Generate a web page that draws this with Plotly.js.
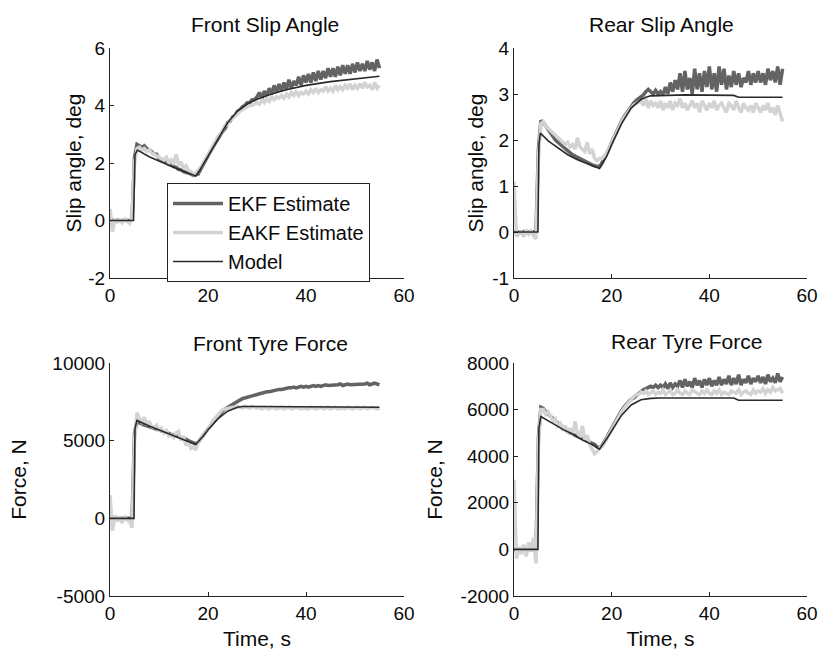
<!DOCTYPE html>
<html>
<head>
<meta charset="utf-8">
<script src="https://cdn.plot.ly/plotly-3.0.1.min.js"></script>
<style>html,body{margin:0;padding:0;background:#fff;}#chart{width:820px;height:650px;}</style>
</head>
<body>
<div id="chart"></div>
<script>
// Shared time base for estimates (s)
const t = [
  0,0.5,1,1.5,2,2.5,3,3.5,4,4.5,
  5,5.5,6,6.5,7,7.5,8,8.5,9,9.5,
  10,10.5,11,11.5,12,12.5,13,13.5,14,14.5,
  15,15.5,16,16.5,17,17.5,18,18.5,19,19.5,
  20,20.5,21,21.5,22,22.5,23,23.5,24,24.5,
  25,25.5,26,26.5,27,27.5,28,28.5,29,29.5,
  30,30.5,31,31.5,32,32.5,33,33.5,34,34.5,
  35,35.5,36,36.5,37,37.5,38,38.5,39,39.5,
  40,40.5,41,41.5,42,42.5,43,43.5,44,44.5,
  45,45.5,46,46.5,47,47.5,48,48.5,49,49.5,
  50,50.5,51,51.5,52,52.5,53,53.5,54,54.5,
  55
];

// ---- Front Slip Angle (deg) ----
const frontSlipModelT = [0,4.8,5.1,5.6,8,10,12,14,16,17.5,18.5,20,22,24,26,28,30,33,36,40,45,50,55];
const frontSlipModel  = [0,0,2.3,2.45,2.22,2.06,1.92,1.78,1.65,1.55,1.8,2.25,2.85,3.4,3.8,4.05,4.22,4.4,4.55,4.7,4.83,4.93,5.02];
const frontSlipEKF = [
  0,0.02,-0.02,0.01,0,-0.01,0.02,0,-0.01,0.05,
  2.2,2.65,2.6,2.55,2.6,2.5,2.45,2.4,2.3,2.3,
  2.15,2.12,2.05,2.02,1.95,1.93,1.87,1.85,1.78,1.76,
  1.7,1.68,1.63,1.62,1.57,1.58,1.62,1.78,1.95,2.1,
  2.25,2.4,2.55,2.7,2.85,2.95,3.1,3.2,3.4,3.45,
  3.6,3.65,3.8,3.85,3.95,4.0,4.1,4.1,4.2,4.2,
  4.3,4.45,4.25,4.5,4.35,4.6,4.4,4.7,4.45,4.75,
  4.5,4.8,4.55,4.9,4.6,4.85,4.7,5.0,4.7,5.05,
  4.8,5.1,4.8,5.15,4.85,5.2,4.9,5.2,4.95,5.3,
  5.0,5.3,5.0,5.35,5.05,5.4,5.1,5.4,5.1,5.45,
  5.15,5.5,5.2,5.45,5.2,5.55,5.25,5.5,5.2,5.6,
  5.3
];
const frontSlipEAKF = [
  0.4,-0.4,0.05,-0.05,0.02,-0.08,0.05,-0.03,-0.1,0.1,
  2.0,2.5,2.55,2.45,2.5,2.4,2.45,2.35,2.3,2.25,
  2.2,2.15,2.1,2.2,2.0,2.1,1.95,2.3,1.9,2.05,
  1.8,1.9,1.75,1.7,1.6,1.65,1.75,1.85,2.0,2.15,
  2.3,2.5,2.6,2.8,2.9,3.0,3.15,3.3,3.35,3.5,
  3.55,3.65,3.7,3.8,3.85,3.9,3.95,4.0,4.0,4.05,
  4.1,4.05,4.2,4.1,4.25,4.15,4.3,4.2,4.3,4.25,
  4.35,4.25,4.4,4.3,4.45,4.35,4.5,4.35,4.45,4.4,
  4.5,4.4,4.55,4.45,4.6,4.45,4.55,4.5,4.65,4.5,
  4.6,4.5,4.7,4.55,4.65,4.55,4.7,4.6,4.75,4.55,
  4.7,4.6,4.75,4.6,4.8,4.65,4.7,4.55,4.8,4.6,
  4.7
];

// ---- Rear Slip Angle (deg) ----
const rearSlipModelT = [0,4.9,5.1,5.4,7,9,11,13,15,17.5,19,20,22,24,26,27,28,30,35,45,46,55];
const rearSlipModel  = [0,0,1.9,2.15,1.98,1.82,1.68,1.57,1.48,1.38,1.65,1.9,2.35,2.7,2.88,2.93,2.96,2.97,2.98,2.97,2.93,2.93];
const rearSlipEKF = [
  0,0.01,-0.01,0,0.01,-0.01,0,0.01,0,0.02,
  1.8,2.42,2.38,2.3,2.25,2.15,2.08,2.0,1.95,1.9,
  1.85,1.8,1.77,1.72,1.68,1.65,1.62,1.6,1.56,1.55,
  1.5,1.48,1.46,1.44,1.42,1.42,1.5,1.6,1.7,1.82,
  1.95,2.07,2.18,2.3,2.4,2.5,2.58,2.66,2.74,2.8,
  2.86,2.9,2.94,2.98,3.05,3.1,3.05,3.0,3.08,3.0,
  3.05,2.98,3.15,3.0,3.25,3.05,3.3,3.1,3.45,3.05,
  3.5,3.1,3.35,3.0,3.55,3.1,3.45,3.05,3.5,3.15,
  3.6,3.1,3.45,3.05,3.6,3.2,3.55,3.1,3.4,3.15,
  3.5,3.2,3.45,3.15,3.35,3.25,3.5,3.2,3.45,3.25,
  3.5,3.25,3.45,3.2,3.55,3.3,3.5,3.25,3.6,3.2,
  3.55
];
const rearSlipEAKF = [
  1.1,-0.1,-0.05,0,-0.1,0.05,-0.05,0.02,-0.08,-0.15,
  1.6,2.35,2.4,2.3,2.25,2.2,2.15,2.1,2.05,2.0,
  1.95,1.9,1.95,1.85,1.9,1.8,2.05,1.85,1.8,1.75,
  1.95,1.7,1.8,1.6,1.55,1.6,1.6,1.65,1.72,1.82,
  1.95,2.05,2.15,2.28,2.38,2.48,2.56,2.64,2.7,2.76,
  2.8,2.82,2.85,2.75,2.9,2.7,2.85,2.75,2.8,2.7,
  2.85,2.65,2.8,2.7,2.85,2.65,2.8,2.75,2.9,2.7,
  2.8,2.65,2.75,2.85,2.7,2.8,2.6,2.85,2.75,2.65,
  2.8,2.7,2.85,2.65,2.75,2.8,2.7,2.6,2.8,2.75,
  2.65,2.85,2.7,2.6,2.8,2.7,2.65,2.75,2.6,2.8,
  2.7,2.6,2.75,2.65,2.8,2.6,2.7,2.55,2.75,2.6,
  2.4
];

// ---- Front Tyre Force (N) ----
const frontForceModelT = [0,4.9,5.1,5.5,8,10,12,14,16,17.5,19,20,22,24,26,27,30,55];
const frontForceModel  = [0,0,5800,6300,5950,5700,5450,5200,4950,4750,5300,5700,6400,6900,7150,7200,7200,7150];
const frontForceEKF = [
  0,10,-10,5,0,-5,10,0,-10,20,
  5500,6200,6150,6050,6000,5950,5900,5850,5800,5750,
  5700,5650,5600,5550,5500,5450,5400,5350,5300,5250,
  5200,5100,5000,4950,4850,4800,4900,5150,5350,5550,
  5750,5950,6150,6350,6550,6750,6900,7050,7150,7250,
  7350,7450,7550,7600,7700,7750,7800,7850,7900,7950,
  8000,8050,8050,8100,8150,8150,8200,8250,8250,8300,
  8300,8350,8350,8400,8400,8450,8400,8450,8500,8450,
  8500,8450,8500,8550,8500,8550,8500,8550,8600,8550,
  8550,8600,8550,8600,8650,8550,8600,8650,8600,8600,
  8650,8600,8650,8600,8650,8700,8600,8650,8700,8650,
  8600
];
const frontForceEAKF = [
  1500,-800,200,-200,100,-300,150,-100,-200,-600,
  5000,6800,6400,6200,6500,6000,6250,5900,5850,6000,
  5600,5800,5500,5650,5300,5400,5200,5500,5600,5000,
  5300,4700,4900,4500,4600,4400,4900,5200,5400,5600,
  5700,6000,6300,6450,6700,6850,7000,7050,7100,7100,
  7150,7100,7200,7150,7100,7200,7150,7100,7200,7150,
  7100,7150,7050,7150,7100,7050,7150,7100,7050,7100,
  7150,7050,7100,7150,7050,7100,7150,7100,7050,7100,
  7100,7050,7150,7100,7050,7100,7150,7050,7100,7150,
  7050,7100,7150,7050,7100,7100,7050,7150,7100,7050,
  7100,7150,7050,7100,7150,7050,7100,7150,7100,7050,
  7100
];

// ---- Rear Tyre Force (N) ----
const rearForceModelT = [0,4.9,5.1,5.5,8,10,12,14,16,17.5,19,20,22,24,26,28,30,45,46,55];
const rearForceModel  = [0,0,5200,5700,5400,5150,4950,4700,4500,4300,4750,5100,5750,6200,6420,6480,6500,6500,6400,6400];
const rearForceEKF = [
  0,10,-10,5,0,-5,10,0,-10,20,
  4800,6100,6050,5900,5800,5700,5600,5500,5400,5300,
  5200,5150,5050,5000,4950,4900,4850,4800,4750,4700,
  4650,4600,4550,4500,4400,4350,4450,4600,4800,5000,
  5200,5400,5600,5800,5950,6100,6250,6350,6450,6500,
  6600,6700,6750,6850,6900,6950,7000,6950,7050,6950,
  7050,6950,7100,6900,7150,6950,7100,7000,7250,6950,
  7300,7000,7200,6950,7350,7050,7250,6950,7300,7050,
  7350,7000,7250,7050,7400,7050,7300,7100,7450,7050,
  7350,7100,7500,7050,7300,7150,7450,7100,7350,7200,
  7450,7150,7400,7100,7500,7200,7350,7150,7550,7200,
  7400
];
const rearForceEAKF = [
  3000,-400,100,-200,200,-300,300,-100,500,-600,
  4500,6000,6000,5800,5900,5700,5500,5600,5300,5400,
  5100,5300,5000,5200,4900,5500,5000,4800,5300,4700,
  4900,4500,4300,4100,4200,4350,4400,4550,4750,4950,
  5150,5350,5550,5750,5900,6050,6200,6350,6450,6550,
  6650,6650,6750,6700,6800,6650,6750,6800,6650,6750,
  6700,6850,6650,6750,6800,6650,6700,6850,6700,6650,
  6800,6700,6650,6850,6750,6700,6650,6800,6700,6850,
  6700,6650,6800,6700,6850,6650,6750,6700,6650,6800,
  6750,6700,6850,6650,6750,6800,6700,6650,6850,6700,
  6800,6750,6900,6700,6850,6750,6950,6800,6850,6900,
  6700
];

const seriesNames = ['EKF Estimate','EAKF Estimate','Model'];
const panelTitles = ['Front Slip Angle','Rear Slip Angle','Front Tyre Force','Rear Tyre Force'];
const xTicks = [0,20,40,60];
const xTickText = ['0','20','40','60'];
const frontSlipTicks = [-2,0,2,4,6];
const frontSlipTickText = ['-2','0','2','4','6'];
const rearSlipTicks = [-1,0,1,2,3,4];
const rearSlipTickText = ['-1','0','1','2','3','4'];
const frontForceTicks = [-5000,0,5000,10000];
const frontForceTickText = ['-5000','0','5000','10000'];
const rearForceTicks = [-2000,0,2000,4000,6000,8000];
const rearForceTickText = ['-2000','0','2000','4000','6000','8000'];

const FONT = 'Arial, "Liberation Sans", Helvetica, sans-serif';
const TXT = '#0a0a0a';
const EKF_COLOR = '#636363', EAKF_COLOR = '#d3d3d3', MODEL_COLOR = '#2a2a2a';

const panels = [
  {ekf: frontSlipEKF, eakf: frontSlipEAKF, mt: frontSlipModelT, m: frontSlipModel},
  {ekf: rearSlipEKF, eakf: rearSlipEAKF, mt: rearSlipModelT, m: rearSlipModel},
  {ekf: frontForceEKF, eakf: frontForceEAKF, mt: frontForceModelT, m: frontForceModel},
  {ekf: rearForceEKF, eakf: rearForceEAKF, mt: rearForceModelT, m: rearForceModel}
];

const traces = [];
panels.forEach((p, i) => {
  const xa = i === 0 ? 'x' : 'x' + (i + 1);
  const ya = i === 0 ? 'y' : 'y' + (i + 1);
  const show = i === 0;
  traces.push({x: t, y: p.ekf, xaxis: xa, yaxis: ya, type: 'scatter', mode: 'lines',
    name: seriesNames[0], showlegend: show, line: {color: EKF_COLOR, width: 3.5}});
  traces.push({x: t, y: p.eakf, xaxis: xa, yaxis: ya, type: 'scatter', mode: 'lines',
    name: seriesNames[1], showlegend: show, line: {color: EAKF_COLOR, width: 3.5}});
  traces.push({x: p.mt, y: p.m, xaxis: xa, yaxis: ya, type: 'scatter', mode: 'lines',
    name: seriesNames[2], showlegend: show, line: {color: MODEL_COLOR, width: 1.6}});
});

const W = 820, H = 650;
const colX = [[110/W, 404/W], [514/W, 807/W]];
const rowY = [[(H-278)/H, (H-48)/H], [(H-596)/H, (H-363)/H]];

function xAxis(dom, anchor, title) {
  const a = {domain: dom, anchor: anchor, range: [0, 60], tickvals: xTicks, ticktext: xTickText,
    showline: true, linecolor: '#222', linewidth: 1, ticks: 'inside', ticklen: 4,
    tickcolor: '#222', showgrid: false, zeroline: false,
    tickfont: {family: FONT, size: 19, color: TXT}};
  if (title) a.title = {text: title, font: {family: FONT, size: 21, color: TXT}, standoff: 9};
  return a;
}
function yAxis(dom, anchor, range, vals, text, title, standoff) {
  return {domain: dom, anchor: anchor, range: range, tickvals: vals, ticktext: text,
    showline: true, linecolor: '#222', linewidth: 1, ticks: 'inside', ticklen: 4,
    tickcolor: '#222', showgrid: false, zeroline: false,
    tickfont: {family: FONT, size: 19, color: TXT},
    title: {text: title, font: {family: FONT, size: 21, color: TXT}, standoff: standoff}};
}

const titleFont = {family: FONT, size: 21, color: TXT};
const layout = {
  width: W, height: H,
  margin: {l: 0, r: 0, t: 0, b: 0},
  paper_bgcolor: '#fff', plot_bgcolor: '#fff',
  font: {family: FONT, color: TXT},
  showlegend: true,
  legend: {x: 167/W, y: (H-183)/H, xanchor: 'left', yanchor: 'top',
    bgcolor: '#fff', bordercolor: '#222', borderwidth: 1,
    font: {family: FONT, size: 20, color: TXT}, itemwidth: 50, tracegroupgap: 0},
  xaxis: xAxis(colX[0], 'y'),
  yaxis: yAxis(rowY[0], 'x', [-2, 6], frontSlipTicks, frontSlipTickText, 'Slip angle, deg', 0),
  xaxis2: xAxis(colX[1], 'y2'),
  yaxis2: yAxis(rowY[0], 'x2', [-1, 4], rearSlipTicks, rearSlipTickText, 'Slip angle, deg', 2),
  xaxis3: xAxis(colX[0], 'y3', 'Time, s'),
  yaxis3: yAxis(rowY[1], 'x3', [-5000, 10000], frontForceTicks, frontForceTickText, 'Force, N', 20),
  xaxis4: xAxis(colX[1], 'y4', 'Time, s'),
  yaxis4: yAxis(rowY[1], 'x4', [-2000, 8000], rearForceTicks, rearForceTickText, 'Force, N', 12),
  annotations: [
    {text: panelTitles[0], x: 265/W, y: (H-24)/H},
    {text: panelTitles[1], x: 661/W, y: (H-24)/H},
    {text: panelTitles[2], x: 270/W, y: (H-343)/H},
    {text: panelTitles[3], x: 686/W, y: (H-341)/H}
  ].map(a => Object.assign(a, {xref: 'paper', yref: 'paper', xanchor: 'center', yanchor: 'middle',
    showarrow: false, font: titleFont}))
};

Plotly.newPlot('chart', traces, layout, {displayModeBar: false, staticPlot: true});
</script>
</body>
</html>
